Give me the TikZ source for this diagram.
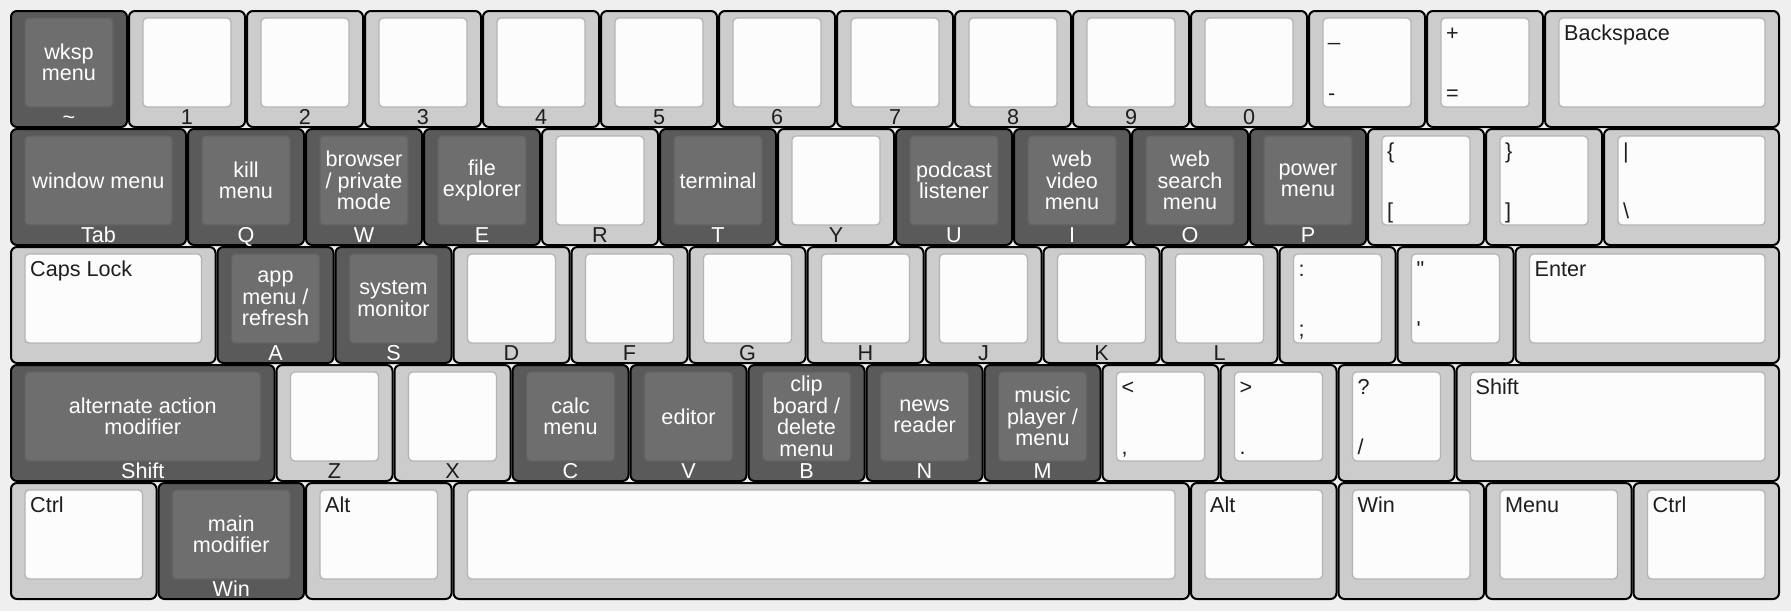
\documentclass[tikz,border=0pt]{standalone}
\usepackage{fontspec}
\setmainfont{Liberation Sans}
\definecolor{kbg}{HTML}{EFEFEF}
\definecolor{kLo}{HTML}{CCCCCC}
\definecolor{kLi}{HTML}{FCFCFC}
\definecolor{kLb}{HTML}{B4B4B4}
\definecolor{kDo}{HTML}{5A5A5A}
\definecolor{kDi}{HTML}{6E6E6E}
\definecolor{kDb}{HTML}{636363}
\definecolor{kLt}{HTML}{1E1E1E}
\tikzset{
  kfont/.style={font=\fontsize{21.6}{21.5}\selectfont},
  outerL/.style={draw=black, line width=2pt, fill=kLo, rounded corners=6pt, inner sep=0pt, outer sep=0pt, anchor=north west},
  outerD/.style={draw=black, line width=2pt, fill=kDo, rounded corners=6pt, inner sep=0pt, outer sep=0pt, anchor=north west},
  innerL/.style={draw=kLb, line width=1.3pt, fill=kLi, rounded corners=4pt, inner sep=0pt, outer sep=0pt, anchor=north west},
  innerD/.style={draw=kDb, line width=1.3pt, fill=kDi, rounded corners=4pt, inner sep=0pt, outer sep=0pt, anchor=north west},
  legL/.style={kfont, text=kLt, inner sep=0pt},
  legD/.style={kfont, text=white, inner sep=0pt},
}
\newcommand{\KeyBody}[5]{%
  \pgfmathsetmacro\kx{11+#2*118}%
  \pgfmathsetmacro\ky{-11-#3*118}%
  \pgfmathsetmacro\kw{#4*118-2}%
  \pgfmathsetmacro\kiw{\kw-28}%
  \node[outer#5, minimum width=\kw pt, minimum height=116pt] (#1) at (\kx pt,\ky pt) {};
  \node[inner#5, minimum width=\kiw pt, minimum height=89pt] (#1i) at ([xshift=14pt,yshift=-7pt]#1.north west) {};
}
\newcommand{\KL}[5]{\KeyBody{#1}{#2}{#3}{#4}{L}%
  \node[legL, anchor=base] (#1b) at ([yshift=3pt]#1.south) {#5};}
\newcommand{\KT}[6]{\KeyBody{#1}{#2}{#3}{#4}{L}%
  \node[legL, anchor=base west] (#1t) at ([xshift=5pt,yshift=-22.5pt]#1i.north west) {#5};
  \node[legL, anchor=base west] (#1s) at ([xshift=5pt,yshift=7pt]#1i.south west) {#6};}
\newcommand{\KTT}[5]{\KeyBody{#1}{#2}{#3}{#4}{L}%
  \node[legL, anchor=base west] (#1t) at ([xshift=5pt,yshift=-22.5pt]#1i.north west) {#5};}
\newcommand{\KD}[6]{\KeyBody{#1}{#2}{#3}{#4}{D}%
  \node[legD, align=center] (#1c) at (#1i.center) {#5};
  \node[legD, anchor=base] (#1b) at ([yshift=3pt]#1.south) {#6};}
\begin{document}
\begin{tikzpicture}
\path[use as bounding box, fill=kbg] (0pt,0pt) rectangle (1791pt,-611pt);
% row 0
\KD{tilde}{0}{0}{1}{wksp\\menu}{\textasciitilde}
\KL{k1}{1}{0}{1}{1}
\KL{k2}{2}{0}{1}{2}
\KL{k3}{3}{0}{1}{3}
\KL{k4}{4}{0}{1}{4}
\KL{k5}{5}{0}{1}{5}
\KL{k6}{6}{0}{1}{6}
\KL{k7}{7}{0}{1}{7}
\KL{k8}{8}{0}{1}{8}
\KL{k9}{9}{0}{1}{9}
\KL{k0}{10}{0}{1}{0}
\KT{minus}{11}{0}{1}{\_}{-}
\KT{equal}{12}{0}{1}{+}{=}
\KTT{bksp}{13}{0}{2}{Backspace}
% row 1
\KD{tab}{0}{1}{1.5}{window menu}{Tab}
\KD{q}{1.5}{1}{1}{kill\\menu}{Q}
\KD{w}{2.5}{1}{1}{browser\\/ private\\mode}{W}
\KD{e}{3.5}{1}{1}{file\\explorer}{E}
\KL{r}{4.5}{1}{1}{R}
\KD{t}{5.5}{1}{1}{terminal}{T}
\KL{y}{6.5}{1}{1}{Y}
\KD{u}{7.5}{1}{1}{podcast\\listener}{U}
\KD{i}{8.5}{1}{1}{web\\video\\menu}{I}
\KD{o}{9.5}{1}{1}{web\\search\\menu}{O}
\KD{p}{10.5}{1}{1}{power\\menu}{P}
\KT{lbr}{11.5}{1}{1}{\{}{[}
\KT{rbr}{12.5}{1}{1}{\}}{]}
\KT{bsl}{13.5}{1}{1.5}{|}{\textbackslash}
% row 2
\KTT{caps}{0}{2}{1.75}{Caps Lock}
\KD{a}{1.75}{2}{1}{app\\menu /\\refresh}{A}
\KD{s}{2.75}{2}{1}{system\\monitor}{S}
\KL{d}{3.75}{2}{1}{D}
\KL{f}{4.75}{2}{1}{F}
\KL{g}{5.75}{2}{1}{G}
\KL{h}{6.75}{2}{1}{H}
\KL{j}{7.75}{2}{1}{J}
\KL{k}{8.75}{2}{1}{K}
\KL{l}{9.75}{2}{1}{L}
\KT{semi}{10.75}{2}{1}{:}{;}
\KT{quote}{11.75}{2}{1}{\textquotedbl}{\textquotesingle}
\KTT{enter}{12.75}{2}{2.25}{Enter}
% row 3
\KD{lshift}{0}{3}{2.25}{alternate action\\modifier}{Shift}
\KL{z}{2.25}{3}{1}{Z}
\KL{x}{3.25}{3}{1}{X}
\KD{c}{4.25}{3}{1}{calc\\menu}{C}
\KD{v}{5.25}{3}{1}{editor}{V}
\KD{b}{6.25}{3}{1}{clip\\board /\\delete\\menu}{B}
\KD{n}{7.25}{3}{1}{news\\reader}{N}
\KD{m}{8.25}{3}{1}{music\\player /\\menu}{M}
\KT{comma}{9.25}{3}{1}{<}{,}
\KT{period}{10.25}{3}{1}{>}{.}
\KT{slash}{11.25}{3}{1}{?}{/}
\KTT{rshift}{12.25}{3}{2.75}{Shift}
% row 4
\KTT{lctrl}{0}{4}{1.25}{Ctrl}
\KD{lwin}{1.25}{4}{1.25}{main\\modifier}{Win}
\KTT{lalt}{2.5}{4}{1.25}{Alt}
\KeyBody{space}{3.75}{4}{6.25}{L}
\KTT{ralt}{10}{4}{1.25}{Alt}
\KTT{rwin}{11.25}{4}{1.25}{Win}
\KTT{menu}{12.5}{4}{1.25}{Menu}
\KTT{rctrl}{13.75}{4}{1.25}{Ctrl}
\end{tikzpicture}
\end{document}
